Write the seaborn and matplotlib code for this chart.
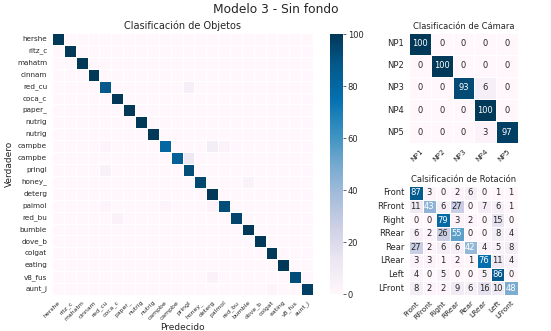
import numpy as np
import matplotlib
matplotlib.use("Agg")
import matplotlib.pyplot as plt
import seaborn as sns

# Object classes (true rows / predicted columns)
objetos = ["hershe", "ritz_c", "mahatm", "cinnam", "red_cu", "coca_c", "paper_",
           "nutrig", "nutrig", "campbe", "campbe", "pringl", "honey_", "deterg",
           "palmol", "red_bu", "bumble", "dove_b", "colgat", "eating", "v8_fus", "aunt_j"]

# Diagonal accuracy per class (%)
objetos_diag = [100, 100, 100, 100, 88, 100, 100, 100, 100, 80, 84, 92, 94, 100,
                92, 95, 100, 100, 100, 100, 92, 97]

# Off-diagonal confusions: (true row, predicted column, value %)
objetos_conf = [(4, 11, 6), (9, 4, 2), (9, 13, 8), (9, 14, 3), (10, 11, 12),
                (11, 4, 5), (12, 16, 4), (14, 4, 2), (14, 9, 2), (14, 13, 3),
                (15, 5, 4), (20, 13, 4), (21, 18, 2)]

camaras = ["NP1", "NP2", "NP3", "NP4", "NP5"]
camara_vals = [
    [100, 0, 0, 0, 0],
    [0, 100, 0, 0, 0],
    [0, 0, 93, 6, 0],
    [0, 0, 0, 100, 0],
    [0, 0, 0, 3, 97],
]

rotaciones = ["Front", "RFront", "Right", "RRear", "Rear", "LRear", "Left", "LFront"]
rotacion_vals = [
    [87, 3, 0, 2, 6, 0, 1, 1],
    [11, 43, 6, 27, 0, 7, 6, 1],
    [0, 0, 79, 3, 2, 0, 15, 0],
    [6, 2, 26, 55, 0, 0, 8, 4],
    [27, 2, 6, 6, 42, 4, 5, 8],
    [3, 3, 1, 2, 1, 76, 11, 4],
    [4, 0, 5, 0, 0, 5, 86, 0],
    [8, 2, 2, 9, 6, 16, 10, 48],
]

n = len(objetos)
obj_mat = np.zeros((n, n))
for i, v in enumerate(objetos_diag):
    obj_mat[i, i] = v
for r, c, v in objetos_conf:
    obj_mat[r, c] = v

sns.set_style("white")
plt.rcParams["font.family"] = ["DejaVu Sans"]

W, H = 551, 331
fig = plt.figure(figsize=(W / 100, H / 100), dpi=100)


def box(x0, y0, x1, y1):
    return [x0 / W, 1 - y1 / H, (x1 - x0) / W, (y1 - y0) / H]


ax_obj = fig.add_axes(box(52, 33, 313, 295))
ax_cb = fig.add_axes(box(330, 34, 343, 294))
ax_cam = fig.add_axes(box(409, 33, 518, 143))
ax_rot = fig.add_axes(box(409, 186, 518, 295))

cmap = "PuBu"


def white_text_on_dark(ax, threshold=40):
    # annotations on the stronger cells are written in white
    for t in ax.texts:
        try:
            v = float(t.get_text())
        except ValueError:
            continue
        t.set_color("white" if v >= threshold else "#262626")


sns.heatmap(obj_mat, ax=ax_obj, cbar_ax=ax_cb, cmap=cmap, vmin=0, vmax=100,
            linewidths=0.4, linecolor="white",
            xticklabels=objetos, yticklabels=objetos)
ax_obj.set_title("Clasificación de Objetos", fontsize=7, pad=3)
ax_obj.set_xlabel("Predecido", fontsize=6.5, labelpad=1)
ax_obj.set_ylabel("Verdadero", fontsize=6.5, labelpad=2)
ax_obj.tick_params(axis="y", labelsize=5.2, length=2, width=0.5, pad=1.5)
ax_obj.tick_params(axis="x", labelsize=4.4, length=2, width=0.5, pad=1.5)
plt.setp(ax_obj.get_xticklabels(), rotation=45, ha="right", rotation_mode="anchor")
plt.setp(ax_obj.get_yticklabels(), rotation=0)
ax_cb.tick_params(labelsize=6, length=2, width=0.5, pad=1.5)

sns.heatmap(np.array(camara_vals), ax=ax_cam, cmap=cmap, vmin=0, vmax=100, cbar=False,
            annot=True, fmt="d", annot_kws={"fontsize": 6},
            linewidths=0.4, linecolor="white",
            xticklabels=camaras, yticklabels=camaras)
white_text_on_dark(ax_cam)
ax_cam.set_title("Clasificación de Cámara", fontsize=6, pad=3)
ax_cam.tick_params(axis="y", labelsize=6, length=2, width=0.5, pad=1.5)
ax_cam.tick_params(axis="x", labelsize=5.3, length=2, width=0.5, pad=1.5)
plt.setp(ax_cam.get_xticklabels(), rotation=45, ha="right", rotation_mode="anchor")
plt.setp(ax_cam.get_yticklabels(), rotation=0)

sns.heatmap(np.array(rotacion_vals), ax=ax_rot, cmap=cmap, vmin=0, vmax=100, cbar=False,
            annot=True, fmt="d", annot_kws={"fontsize": 6},
            linewidths=0.4, linecolor="white",
            xticklabels=rotaciones, yticklabels=rotaciones)
white_text_on_dark(ax_rot)
ax_rot.set_title("Calsificación de Rotación", fontsize=6, pad=3)
ax_rot.tick_params(axis="y", labelsize=6, length=2, width=0.5, pad=1.5)
ax_rot.tick_params(axis="x", labelsize=5.3, length=2, width=0.5, pad=1.5)
plt.setp(ax_rot.get_xticklabels(), rotation=45, ha="right", rotation_mode="anchor")
plt.setp(ax_rot.get_yticklabels(), rotation=0)

fig.suptitle("Modelo 3 - Sin fondo", fontsize=8.8, y=1 - 3 / H, va="top")

fig.savefig("out.png", dpi=100)
